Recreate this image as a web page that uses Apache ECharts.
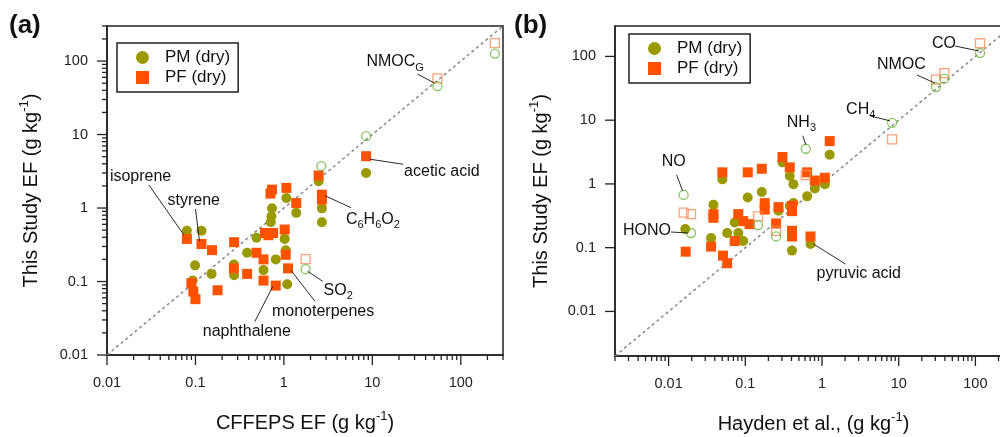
<!DOCTYPE html>
<html>
<head>
<meta charset="utf-8">
<script src="https://cdn.jsdelivr.net/npm/echarts@6/dist/echarts.min.js"></script>
<style>
  html, body { margin: 0; padding: 0; background: #fff; }
  #chart { width: 1000px; height: 437px; }
</style>
</head>
<body>
<div id="chart"></div>
<script>
// ---- panel (a): CFFEPS EF vs this study EF ----
var pmA = [[0.08, 0.49], [0.117, 0.49], [0.099, 0.166], [0.152, 0.127], [0.093, 0.103], [0.274, 0.122],
  [0.272, 0.17], [0.384, 0.246], [0.49, 0.395], [0.588, 0.143], [0.81, 0.2], [1.02, 0.38], [1.05, 0.267],
  [1.09, 0.092], [0.734, 0.99], [0.723, 0.77], [0.71, 0.64], [1.067, 1.37], [1.38, 0.86], [2.47, 2.31],
  [2.69, 0.99], [2.69, 0.64], [8.5, 3.0]];
var pfA = [[0.08, 0.38], [0.117, 0.324], [0.154, 0.267], [0.274, 0.343], [0.272, 0.151], [0.384, 0.127],
  [0.178, 0.076], [0.09, 0.095], [0.0946, 0.073], [0.1, 0.0575], [0.49, 0.246], [0.588, 0.2], [0.588, 0.103],
  [0.809, 0.088], [1.048, 0.231], [1.112, 0.151], [1.02, 0.51], [0.61, 0.457], [0.669, 0.427], [0.754, 0.457],
  [0.734, 1.78], [0.705, 1.57], [1.067, 1.88], [1.38, 1.17], [2.47, 2.77], [2.69, 1.52], [2.69, 1.30], [8.5, 5.07]];
var pmOpenA = [[1.76, 0.147], [2.65, 3.71], [8.5, 9.5], [54.5, 45.7], [243, 126.5]];
var pfOpenA = [[1.76, 0.202], [54.5, 58.3], [243, 175]];
var notesA = ['isoprene', 'styrene', 'naphthalene', 'monoterpenes', 'SO{s|2}', 'C{s|6}H{s|6}O{s|2}', 'acetic acid', 'NMOC{s|G}'];
var noteAtA = [[0.08, 0.38], [0.117, 0.324], [0.809, 0.088], [1.112, 0.151], [1.76, 0.147], [2.69, 1.52], [8.5, 5.07], [54.5, 45.7]];

// ---- panel (b): Hayden et al. vs this study EF ----
var pmB = [[0.0165, 0.196], [0.0502, 1.18], [0.305, 2.18], [0.38, 1.33], [0.424, 0.99], [0.805, 0.85],
  [1.09, 0.99], [1.26, 2.87], [0.0384, 0.47], [0.0358, 0.142], [0.058, 0.17], [0.0727, 0.249], [0.081, 0.17],
  [0.094, 0.127], [0.1075, 0.611], [0.164, 0.745], [0.271, 0.38], [0.38, 0.453], [0.424, 0.50], [0.406, 0.09],
  [0.64, 0.638], [0.708, 0.114]];
var pfB = [[0.0167, 0.0866], [0.0502, 1.52], [0.1075, 1.52], [0.164, 1.73], [0.305, 2.64], [0.38, 1.82],
  [0.64, 1.52], [0.805, 1.13], [1.09, 1.25], [1.26, 4.7], [0.0384, 0.336], [0.0384, 0.294], [0.0358, 0.104],
  [0.0512, 0.075], [0.058, 0.057], [0.081, 0.336], [0.094, 0.261], [0.114, 0.234], [0.0727, 0.127], [0.179, 0.50],
  [0.179, 0.396], [0.271, 0.433], [0.252, 0.24], [0.406, 0.453], [0.406, 0.374], [0.406, 0.184], [0.406, 0.15],
  [0.708, 0.15]];
var pmOpenB = [[0.0157, 0.673], [0.0196, 0.17], [0.1466, 0.226], [0.252, 0.15], [0.615, 3.56], [8.2, 9.08],
  [30.6, 33.1], [39.3, 44.8], [115, 113]];
var pfOpenB = [[0.0157, 0.356], [0.0196, 0.336], [0.1466, 0.31], [0.252, 0.184], [0.615, 1.38], [8.2, 4.99],
  [30.6, 43.2], [39.3, 54.8], [115, 161]];
var notesB = ['NO', 'HONO', 'NH{s|3}', 'CH{s|4}', 'NMOC', 'CO', 'pyruvic acid'];
var noteAtB = [[0.0157, 0.673], [0.0196, 0.17], [0.615, 3.56], [8.2, 9.08], [30.6, 33.1], [115, 113], [0.708, 0.114]];

// axis ranges
var rangeA = {x: [0.01, 300], y: [0.01, 300]};
var rangeB = {x: [0.002, 300], y: [0.002, 300]};

// label placement (pixel offsets from the anchor point): text, leader start, leader end
var noteLayoutA = [
  {t: [-77, -62], a: [-38, -54], b: [-3, -4]},
  {t: [-34, -43], a: [-6, -35], b: [-2, -3]},
  {t: [-73, 46], a: [-21, 36], b: [-3, 1]},
  {t: [-16, 43], a: [3, 2], b: [27, 33]},
  {t: [18, 21], a: [2, 2], b: [17, 12]},
  {t: [24, 25], a: [3, 1], b: [29, 13]},
  {t: [38, 15], a: [4, 3], b: [37, 8]},
  {t: [-71, -24], a: [-20, -12], b: [-3, -3]}
];
var noteLayoutB = [
  {t: [-22, -33], a: [-7, -20], b: [-1, -4]},
  {t: [-20, -2], a: [-20, -1], b: [-3, 0], right: true},
  {t: [-19, -26], a: [-3, -13], b: [0, -4]},
  {t: [-46, -13], a: [-22, -7], b: [-2, -2]},
  {t: [-59, -22], a: [-19, -12], b: [-1, -4]},
  {t: [-48, -9], a: [-25, -7], b: [-1, -2]},
  {t: [6, 30], a: [3, 0], b: [35, 20]}
];

var FONT = 'Liberation Sans, Arial, sans-serif';
var PM_COLOR = '#9a9a00';
var PF_COLOR = '#ff5200';
var PM_OPEN = '#66b83a';
var PF_OPEN = '#ff8a5a';

function decadeLabel(v) {
  var l = Math.log10(v);
  var e = Math.round(l);
  if (Math.abs(l - e) > 1e-6) return '';
  return e >= 0 ? String(Math.pow(10, e)) : Math.pow(10, e).toFixed(-e);
}

// tick positions for a log axis: 1..9 x 10^n inside [min, max]
function logTicks(min, max, withMinor) {
  var out = [];
  for (var d = Math.floor(Math.log10(min)); d <= Math.ceil(Math.log10(max)); d++) {
    for (var k = 1; k <= 9; k++) {
      if (k > 1 && !withMinor) continue;
      var v = k * Math.pow(10, d);
      if (v < min * 0.999 || v > max * 1.001) continue;
      out.push([v, k === 1 ? 1 : 0]);
    }
  }
  return out;
}

function tickData(range, xMinor, yMinor) {
  var data = [];
  logTicks(range.x[0], range.x[1], xMinor).forEach(function (t) {
    data.push([t[0], range.y[0], 0, t[1]]);
  });
  logTicks(range.y[0], range.y[1], yMinor).forEach(function (t) {
    data.push([range.x[0], t[0], 1, t[1]]);
  });
  return data;
}

function renderTick(params, api) {
  var p = api.coord([api.value(0), api.value(1)]);
  var len = api.value(3) ? 10 : 5;
  var shape = api.value(2) === 0
    ? {x1: p[0], y1: p[1], x2: p[0], y2: p[1] + len}
    : {x1: p[0] - len, y1: p[1], x2: p[0], y2: p[1]};
  return {type: 'line', shape: shape, style: {stroke: '#222', lineWidth: 1.3}};
}

function noteRenderer(names, layout) {
  return function (params, api) {
    var i = api.value(2);
    var p = api.coord([api.value(0), api.value(1)]);
    var L = layout[i];
    return {
      type: 'group',
      children: [
        {type: 'line', shape: {x1: p[0] + L.a[0], y1: p[1] + L.a[1], x2: p[0] + L.b[0], y2: p[1] + L.b[1]},
          style: {stroke: '#111', lineWidth: 0.9}},
        {type: 'text', x: p[0] + L.t[0], y: p[1] + L.t[1],
          style: {text: names[i], fill: '#111', fontFamily: FONT, fontSize: 16, lineHeight: 22,
            align: L.right ? 'right' : 'left', verticalAlign: 'middle',
            rich: {s: {fontSize: 11, lineHeight: 12, verticalAlign: 'bottom', fontFamily: FONT, fill: '#111'}}}}
      ]
    };
  };
}

function logAxis(gi, range, name, gap, isY) {
  return {
    type: 'log', logBase: 10, gridIndex: gi, min: range[0], max: range[1],
    name: name, nameLocation: 'middle', nameGap: gap,
    nameTextStyle: {fontSize: 20, fontFamily: FONT, color: '#111', lineHeight: 26,
      rich: {sup: {fontSize: 13, lineHeight: 13, verticalAlign: 'top', fontFamily: FONT, color: '#111'}}},
    axisLine: {show: true, onZero: false, lineStyle: {color: '#222', width: 1.5}},
    axisTick: {show: false},
    minorTick: {show: false},
    splitLine: {show: false},
    axisLabel: {formatter: decadeLabel, fontSize: 14.5, fontFamily: FONT, color: '#222', margin: isY ? 19 : 20}
  };
}

function panelSeries(xi, range, pm, pf, pmOpen, pfOpen, notes, noteAt, layout, xMinor, yMinor) {
  return [
    {type: 'line', xAxisIndex: xi, yAxisIndex: xi, data: [[range.x[0], range.x[0]], [range.x[1], range.x[1]]],
      showSymbol: false, silent: true, z: 1,
      lineStyle: {color: '#888', width: 1.5, type: [3, 3]}},
    {name: 'PM (dry)', type: 'scatter', xAxisIndex: xi, yAxisIndex: xi, data: pm, symbol: 'circle',
      symbolSize: 10, itemStyle: {color: PM_COLOR, opacity: 1}, z: 2},
    {name: 'PF (dry)', type: 'scatter', xAxisIndex: xi, yAxisIndex: xi, data: pf, symbol: 'rect',
      symbolSize: 10, itemStyle: {color: PF_COLOR, opacity: 1}, z: 3},
    {name: 'PF open', type: 'scatter', xAxisIndex: xi, yAxisIndex: xi, data: pfOpen, symbol: 'rect',
      symbolSize: 9, itemStyle: {color: 'rgba(255,255,255,0)', borderColor: PF_OPEN, borderWidth: 1.3}, z: 4},
    {name: 'PM open', type: 'scatter', xAxisIndex: xi, yAxisIndex: xi, data: pmOpen, symbol: 'circle',
      symbolSize: 9, itemStyle: {color: 'rgba(255,255,255,0)', borderColor: PM_OPEN, borderWidth: 1.3}, z: 4},
    {type: 'custom', xAxisIndex: xi, yAxisIndex: xi, data: tickData(range, xMinor, yMinor),
      renderItem: renderTick, clip: false, silent: true, z: 6},
    {type: 'custom', xAxisIndex: xi, yAxisIndex: xi,
      data: noteAt.map(function (d, i) { return [d[0], d[1], i]; }),
      renderItem: noteRenderer(notes, layout), clip: false, silent: true, z: 7}
  ];
}

var legendBase = {
  orient: 'vertical', data: ['PM (dry)', 'PF (dry)'], selectedMode: false,
  itemWidth: 13, itemHeight: 13, itemGap: 3,
  borderColor: '#222', borderWidth: 1.5, borderRadius: 0, padding: [6, 8, 6, 19],
  textStyle: {fontSize: 17, fontFamily: FONT, color: '#111', padding: [0, 0, 0, 11]}
};

var option = {
  animation: false,
  backgroundColor: '#fff',
  title: [
    {text: '(a)', left: 9, top: 13, padding: 0, textStyle: {fontSize: 26, fontWeight: 'bold', fontFamily: FONT, color: '#111'}},
    {text: '(b)', left: 514, top: 13, padding: 0, textStyle: {fontSize: 26, fontWeight: 'bold', fontFamily: FONT, color: '#111'}}
  ],
  legend: [
    Object.assign({}, legendBase, {left: 117, top: 43}),
    Object.assign({}, legendBase, {left: 629, top: 34})
  ],
  grid: [
    {left: 107, top: 26, width: 396, height: 329, outerBoundsMode: 'none', containLabel: false,
      show: true, borderColor: '#222', borderWidth: 1.5, backgroundColor: 'transparent'},
    {left: 615, top: 26, width: 397, height: 330, outerBoundsMode: 'none', containLabel: false,
      show: true, borderColor: '#222', borderWidth: 1.5, backgroundColor: 'transparent'}
  ],
  xAxis: [
    logAxis(0, rangeA.x, 'CFFEPS EF (g kg{sup|-1})', 55, false),
    logAxis(1, rangeB.x, 'Hayden et al., (g kg{sup|-1})', 55, false)
  ],
  yAxis: [
    logAxis(0, rangeA.y, 'This Study EF (g kg{sup|-1})', 63, true),
    logAxis(1, rangeB.y, 'This Study EF (g kg{sup|-1})', 61, true)
  ],
  series: panelSeries(0, rangeA, pmA, pfA, pmOpenA, pfOpenA, notesA, noteAtA, noteLayoutA, true, true)
    .concat(panelSeries(1, rangeB, pmB, pfB, pmOpenB, pfOpenB, notesB, noteAtB, noteLayoutB, true, false))
};

var myChart = echarts.init(document.getElementById('chart'));
myChart.setOption(option);
window.addEventListener('resize', function () { myChart.resize(); });
</script>
</body>
</html>
